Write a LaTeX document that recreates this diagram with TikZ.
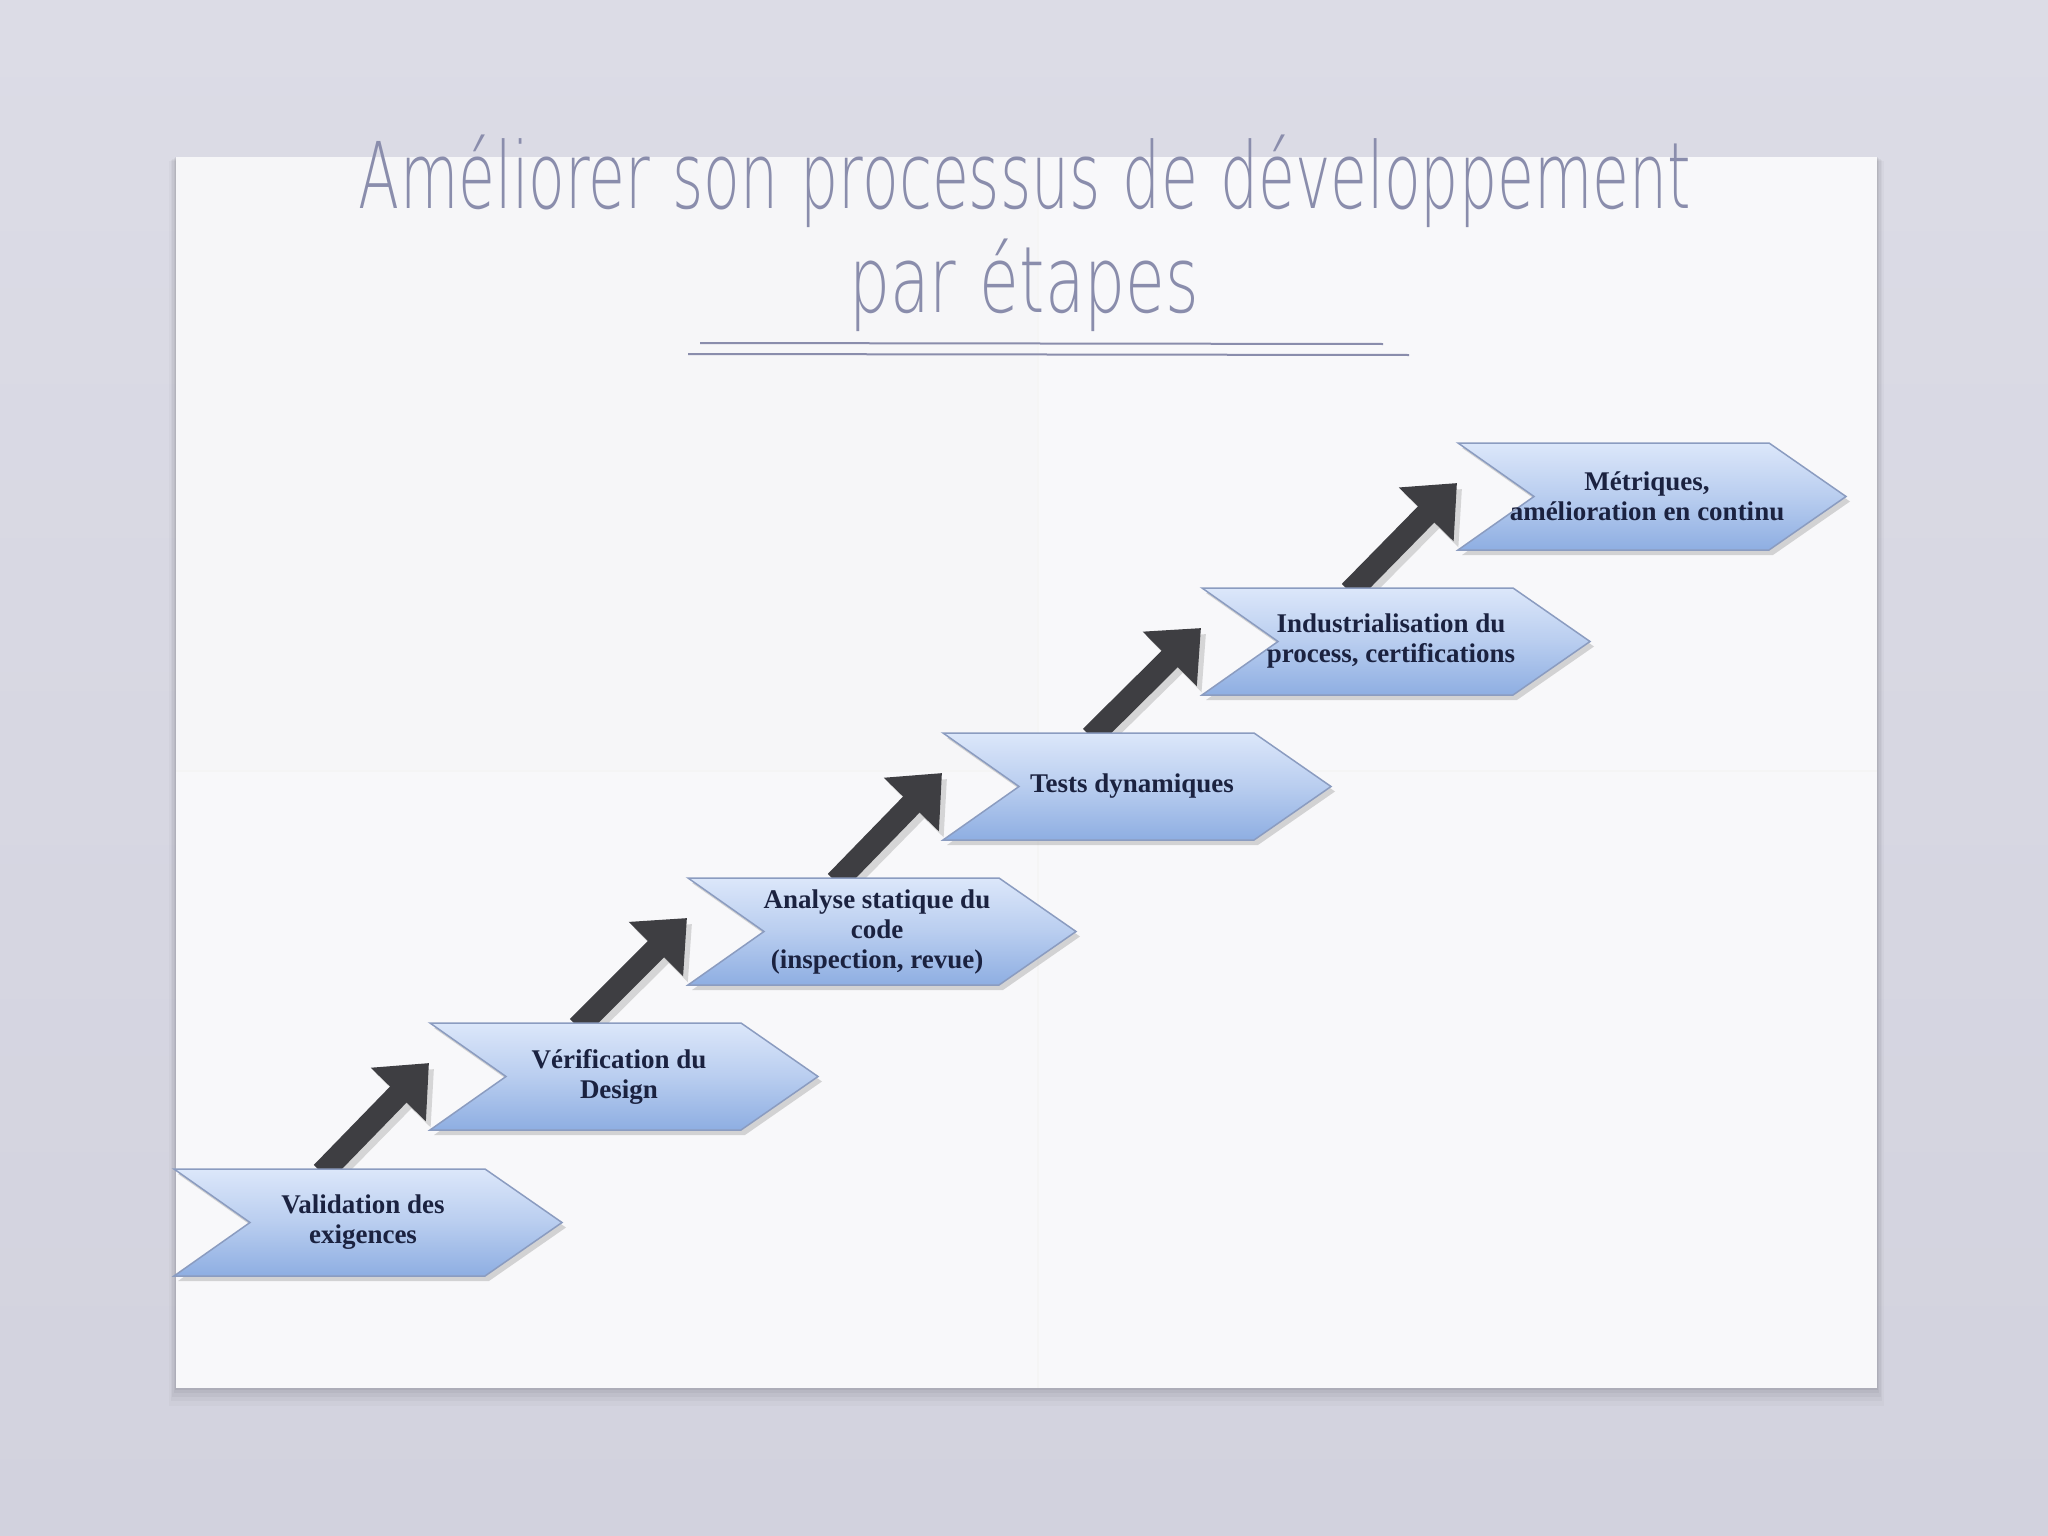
\documentclass[tikz,border=0pt]{standalone}
\usepackage{fontspec}
\usepackage{graphicx}
\usetikzlibrary{arrows.meta,calc}
\newfontfamily\boxfont{Liberation Serif}
\newfontfamily\handfont{DejaVu Sans ExtraLight}
\definecolor{bgtop}{HTML}{DCDCE6}
\definecolor{bgbot}{HTML}{D2D2DE}
\definecolor{paper}{HTML}{F8F8FA}
\definecolor{titlecol}{HTML}{8A8DAC}
\definecolor{chevtop}{HTML}{DCE7FA}
\definecolor{chevbot}{HTML}{8EAEE2}
\definecolor{chevline}{HTML}{8B9CC0}
\definecolor{chevtextcol}{HTML}{1B2240}
\definecolor{arrowcol}{HTML}{3E3E42}
\tikzset{
  chevfill/.style={top color=chevtop, bottom color=chevbot, middle color=chevtop!55!chevbot, draw=chevline, line width=1.5pt, line join=miter},
  chevshade/.style={fill=black!45, opacity=.35},
  chevtext/.style={font=\boxfont\bfseries\fontsize{27}{30}\selectfont, align=center, text=chevtextcol, inner sep=0pt},
  stepconn/.style={draw=arrowcol, line width=23pt, -{Triangle[length=44pt,width=74pt]}},
  stepconnshadow/.style={draw=black!25, line width=23pt, -{Triangle[length=44pt,width=74pt]}, opacity=.6},
  titletext/.style={font=\handfont\fontsize{92}{92}\selectfont, text=titlecol, inner sep=0pt, anchor=base}
}
\newcommand\wsp{\hspace{34pt}}
\newcommand\chevshape[4]{%
\begin{scope}[shift={(#2,#3)}]
  \fill[chevshade] (4,5) -- (315,5) -- (392,58.5) -- (315,112) -- (4,112) -- (80,58.5) -- cycle;
  \path[chevfill] (0,0) -- (311,0) -- (388,53.5) -- (311,107) -- (0,107) -- (76,53.5) -- cycle;
  \node[chevtext] (#1) at (189,53.5) {#4};
\end{scope}}
\begin{document}
\begin{tikzpicture}[x=1pt,y=-1pt]
\useasboundingbox (0,0) rectangle (2048,1536);
% background
\shade[top color=bgtop, bottom color=bgbot] (0,0) rectangle (2048,1536);
% paper shadow (soft)
\foreach \d/\o in {18/.025,13/.03,9/.035,5/.04,2/.05}{
  \fill[black, opacity=\o] (176-\d*0.4,157+\d*0.2) rectangle (1877+\d*0.4,1388+\d);
}
% paper
\fill[paper] (176,157) rectangle (1877,1388);
\fill[black, opacity=.008] (176,157) rectangle (1038,771);
\draw[black!4, line width=1.5pt] (1038,157) -- (1038,1388);
\draw[black!4, line width=2pt] (176,771) -- (1877,771);
% title
\node[titletext] (title1) at (1025,208) {\resizebox{1332pt}{\height}{Améliorer\wsp son\wsp processus\wsp de\wsp développement}};
\node[titletext] (title2) at (1024,312) {\resizebox{350pt}{\height}{par\wsp étapes}};
\draw[titlecol, line width=2pt] (700,343) -- (1383,344);
\draw[titlecol, line width=2pt] (688,354) -- (1409,355);
% arrow coordinates
\foreach \i/\lx/\ty/\nx/\nty in {1/174/1169/430/1023, 2/430/1023/688/878, 3/688/878/943/733, 4/943/733/1202/588, 5/1202/588/1458/443}{
  \coordinate (t\i) at (\lx+148,\ty+4);
  \coordinate (h\i) at (\nx-1,\nty+40);
  \coordinate (ts\i) at (\lx+154,\ty+8);
  \coordinate (hs\i) at (\nx+4,\nty+46);
}
\foreach \i in {1,...,5}{
  \draw[stepconnshadow] (ts\i) -- (hs\i);
  \draw[stepconn] (t\i) -- (h\i);
}
% chevrons
\chevshape{c1}{174}{1169}{Validation des\\exigences}
\chevshape{c2}{430}{1023}{Vérification du\\Design}
\chevshape{c3}{688}{878}{Analyse statique du\\code\\(inspection, revue)}
\chevshape{c4}{943}{733}{Tests dynamiques}
\chevshape{c5}{1202}{588}{Industrialisation du\\process, certifications}
\chevshape{c6}{1458}{443}{Métriques,\\amélioration en continu}
\end{tikzpicture}
\end{document}
